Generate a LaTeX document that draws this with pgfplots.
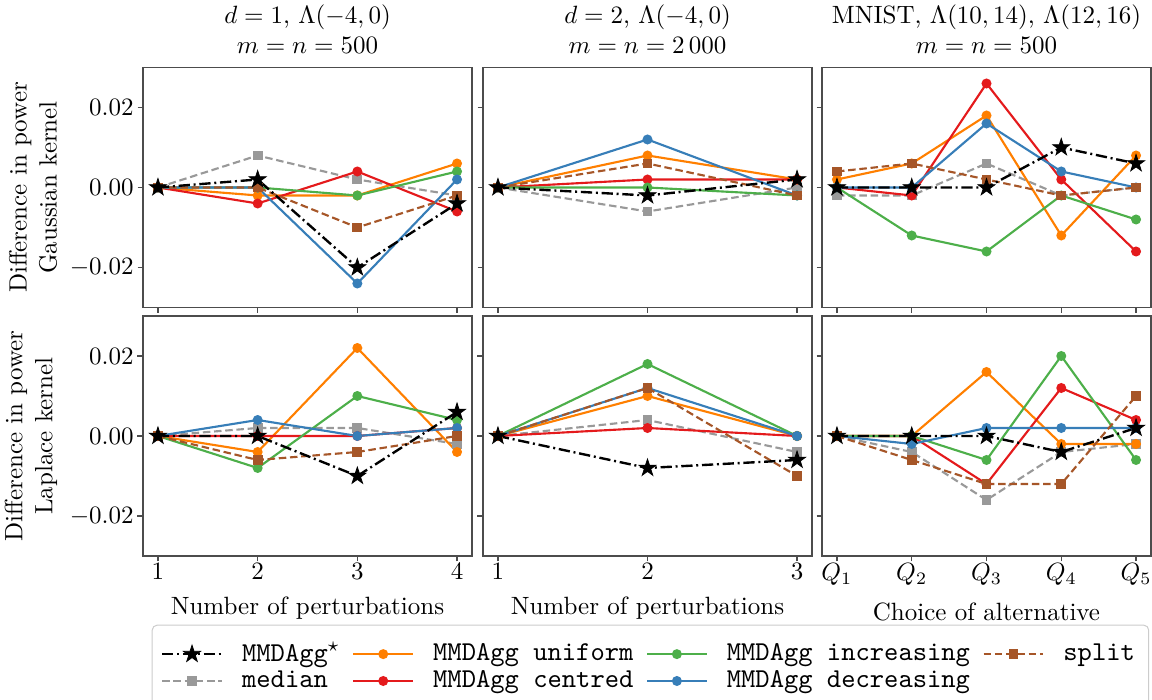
\documentclass[border=0pt]{standalone}
\usepackage{pgfplots}
\usepackage{pgfplotstable}
\pgfplotsset{compat=1.18}
\usetikzlibrary{plotmarks}

\definecolor{cOrange}{HTML}{FF7F00}
\definecolor{cRed}{HTML}{E41A1C}
\definecolor{cGreen}{HTML}{4DAF4A}
\definecolor{cBlue}{HTML}{377EB8}
\definecolor{cBrown}{HTML}{A65628}
\definecolor{cGray}{HTML}{999999}

\pgfdeclareplotmark{fstar}{%
  \pgfpathmoveto{\pgfpointpolar{90}{\pgfplotmarksize}}%
  \pgfpathlineto{\pgfpointpolar{126}{0.382\pgfplotmarksize}}%
  \pgfpathlineto{\pgfpointpolar{162}{\pgfplotmarksize}}%
  \pgfpathlineto{\pgfpointpolar{198}{0.382\pgfplotmarksize}}%
  \pgfpathlineto{\pgfpointpolar{234}{\pgfplotmarksize}}%
  \pgfpathlineto{\pgfpointpolar{270}{0.382\pgfplotmarksize}}%
  \pgfpathlineto{\pgfpointpolar{306}{\pgfplotmarksize}}%
  \pgfpathlineto{\pgfpointpolar{342}{0.382\pgfplotmarksize}}%
  \pgfpathlineto{\pgfpointpolar{18}{\pgfplotmarksize}}%
  \pgfpathlineto{\pgfpointpolar{54}{0.382\pgfplotmarksize}}%
  \pgfpathclose\pgfusepathqfillstroke}

% columns: x star med uni cen inc dec spl
\pgfplotstableread{
x star med uni cen inc dec spl
1 0 0 0 0 0 0 0
2 0.002 0.008 -0.002 -0.004 0 0 0
3 -0.02 0.002 -0.002 0.004 -0.002 -0.024 -0.01
4 -0.004 -0.002 0.006 -0.006 0.004 0.002 -0.002
}\tA
\pgfplotstableread{
x star med uni cen inc dec spl
1 0 0 0 0 0 0 0
2 -0.002 -0.006 0.008 0.002 0 0.012 0.006
3 0.002 0 0.002 0.002 -0.002 -0.002 -0.002
}\tB
\pgfplotstableread{
x star med uni cen inc dec spl
1 0 -0.002 0.002 0 0 0 0.004
2 0 -0.002 0.006 -0.002 -0.012 0 0.006
3 0 0.006 0.018 0.026 -0.016 0.016 0.002
4 0.01 -0.002 -0.012 0.002 -0.002 0.004 -0.002
5 0.006 0 0.008 -0.016 -0.008 0 0
}\tC
\pgfplotstableread{
x star med uni cen inc dec spl
1 0 0 0 0 0 0 0
2 0 0.002 -0.004 0 -0.008 0.004 -0.006
3 -0.01 0.002 0.022 0 0.01 0 -0.004
4 0.006 -0.002 -0.004 0.002 0.004 0.002 0
}\tD
\pgfplotstableread{
x star med uni cen inc dec spl
1 0 0 0 0 0 0 0
2 -0.008 0.004 0.01 0.002 0.018 0.012 0.012
3 -0.006 -0.004 0 0 0 0 -0.01
}\tE
\pgfplotstableread{
x star med uni cen inc dec spl
1 0 0 0 0 0 0 0
2 0 -0.004 0 0 0 -0.002 -0.006
3 0 -0.016 0.016 -0.012 -0.006 0.002 -0.012
4 -0.004 -0.004 -0.002 0.012 0.02 0.002 -0.012
5 0.002 -0.002 -0.002 0.004 -0.006 0.002 0.01
}\tF

\pgfplotsset{
  panel/.style={
    scale only axis, width=131.6pt, height=96pt,
    ymin=-0.03, ymax=0.03, ytick={-0.02,0,0.02},
    scaled y ticks=false,
    yticklabel style={/pgf/number format/.cd, fixed, fixed zerofill, precision=2, /tikz/.cd, xshift=2pt},
    xticklabel style={yshift=2.8pt},
    tick align=outside, tick pos=left, major tick length=2.2pt,
    axis line style={draw=black!70, line width=0.6pt},
    every tick/.style={black!70, line width=0.6pt},
    title style={align=center, yshift=-4pt},
    ylabel style={align=center}, ylabel shift=-1.8pt,
    clip=false,
  },
  sSolid/.style={line width=0.85pt, solid, mark=*, mark size=1.55pt, mark options={solid}},
  sStar/.style={black, line width=0.95pt, dash pattern=on 4.5pt off 1.5pt on 0.8pt off 1.5pt, mark=fstar, mark size=3.6pt, mark options={solid, fill=black, line width=0.3pt}},
  sMed/.style={cGray, line width=0.85pt, dash pattern=on 3pt off 1.5pt, mark=square*, mark size=1.55pt, mark options={solid, fill=cGray}},
  sSpl/.style={cBrown, line width=0.85pt, dash pattern=on 3pt off 1.5pt, mark=square*, mark size=1.55pt, mark options={solid, fill=cBrown}},
  sUni/.style={cOrange, sSolid, mark options={fill=cOrange}},
  sCen/.style={cRed, sSolid, mark options={fill=cRed}},
  sInc/.style={cGreen, sSolid, mark options={fill=cGreen}},
  sDec/.style={cBlue, sSolid, mark options={fill=cBlue}},
}

\newcommand{\allplots}[1]{%
  \addplot[sMed, forget plot] table[x=x, y=med] {#1};
  \addplot[sUni, forget plot] table[x=x, y=uni] {#1};
  \addplot[sCen, forget plot] table[x=x, y=cen] {#1};
  \addplot[sInc, forget plot] table[x=x, y=inc] {#1};
  \addplot[sDec, forget plot] table[x=x, y=dec] {#1};
  \addplot[sSpl, forget plot] table[x=x, y=spl] {#1};
  \addplot[sStar, forget plot] table[x=x, y=star] {#1};
}

\begin{document}
\begin{tikzpicture}
\useasboundingbox (0,0) rectangle (460.8pt,-280pt);

% top row
\begin{axis}[panel, at={(57.2pt,-123pt)}, anchor=south west,
  xmin=0.85, xmax=4.15, xtick={1,2,3,4}, xticklabel=\empty,
  title={$d=1$, $\Lambda(-4,0)$\\$m=n=500$},
  ylabel={Difference in power\\Gaussian kernel}]
\allplots{\tA}
\end{axis}
\begin{axis}[panel, at={(193.2pt,-123pt)}, anchor=south west,
  xmin=0.9, xmax=3.1, xtick={1,2,3}, xticklabel=\empty, yticklabel=\empty,
  title={$d=2$, $\Lambda(-4,0)$\\$m=n=2\,000$}]
\allplots{\tB}
\end{axis}
\begin{axis}[panel, at={(328.8pt,-123pt)}, anchor=south west,
  xmin=0.8, xmax=5.2, xtick={1,2,3,4,5}, xticklabel=\empty, yticklabel=\empty,
  title={MNIST, $\Lambda(10,14)$, $\Lambda(12,16)$\\$m=n=500$}]
\allplots{\tC}
\end{axis}

% bottom row
\begin{axis}[panel, at={(57.2pt,-222.4pt)}, anchor=south west,
  xmin=0.85, xmax=4.15, xtick={1,2,3,4},
  xlabel={Number of perturbations},
  ylabel={Difference in power\\Laplace kernel}]
\allplots{\tD}
\end{axis}
\begin{axis}[panel, at={(193.2pt,-222.4pt)}, anchor=south west,
  xmin=0.9, xmax=3.1, xtick={1,2,3}, yticklabel=\empty,
  xlabel={Number of perturbations},
  legend columns=4, legend cell align=left,
  legend image code/.code={\draw[mark repeat=2,mark phase=2,#1] plot coordinates {(0cm,0cm) (0.42cm,0cm) (0.84cm,0cm)};},
  legend style={at={(0.509,-0.286)}, anchor=north, draw=black!20, rounded corners=2pt,
    font=\fontsize{10.9}{12}\selectfont,
    inner xsep=3.5pt, inner ysep=5pt, row sep=-2pt,
    /tikz/every even column/.append style={column sep=3pt},
    /tikz/every odd column/.append style={column sep=5.6pt}}]
\allplots{\tE}
\addlegendimage{sStar}\addlegendentry{\texttt{MMDAgg}$^\star$}
\addlegendimage{sUni}\addlegendentry{\texttt{MMDAgg uniform}}
\addlegendimage{sInc}\addlegendentry{\texttt{MMDAgg increasing}}
\addlegendimage{sSpl}\addlegendentry{\texttt{split}}
\addlegendimage{sMed}\addlegendentry{\texttt{median}}
\addlegendimage{sCen}\addlegendentry{\texttt{MMDAgg centred}}
\addlegendimage{sDec}\addlegendentry{\texttt{MMDAgg decreasing}}
\end{axis}
\begin{axis}[panel, at={(328.8pt,-222.4pt)}, anchor=south west,
  xmin=0.8, xmax=5.2, xtick={1,2,3,4,5}, yticklabel=\empty,
  xticklabels={$Q_1$,$Q_2$,$Q_3$,$Q_4$,$Q_5$},
  xlabel={Choice of alternative}]
\allplots{\tF}
\end{axis}
\end{tikzpicture}
\end{document}
